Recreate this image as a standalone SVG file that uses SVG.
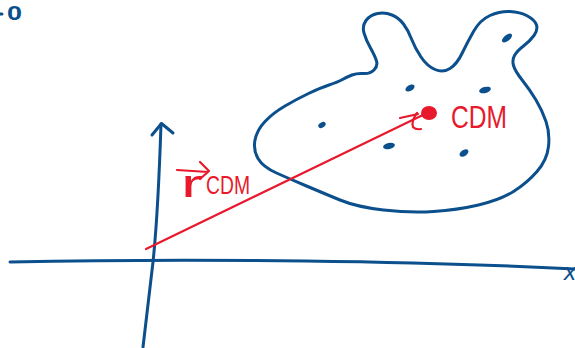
<svg xmlns="http://www.w3.org/2000/svg" width="575" height="348" viewBox="0 0 575 348">
<style>
.blue{fill:none;stroke:#0b4f8c;stroke-width:3;stroke-linecap:round;stroke-linejoin:round}
.red{fill:none;stroke:#e8192c;stroke-width:2.2;stroke-linecap:round;stroke-linejoin:round}
.dot{fill:#0b4f8c}
.lbl{font-family:"Liberation Sans",Arial,sans-serif;fill:#e8192c}
.bl{font-family:"Liberation Sans",Arial,sans-serif;fill:#0b4f8c}
</style>
<rect width="575" height="348" fill="#ffffff"/>
<g id="axes">
<path class="blue" d="M10 262 C200 258 420 261 575 269"/>
<path class="blue" d="M143 347 L153 262 Q158 215 161 124"/>
<path class="blue" d="M152 135 L161.5 123.5 L173 133"/>
<text class="bl" x="564" y="280" font-size="24" font-style="italic">x</text>
<path class="blue" d="M0 14 L2 14"/>
<text class="bl" x="7" y="20" font-size="21" font-weight="bold" textLength="15" lengthAdjust="spacingAndGlyphs">0</text>
</g>
<g id="body">
<path class="blue" d="M255 140 Q257 130 265 121.5 Q273 113 285 106 Q297 99 308.5 93.5 Q320 88 329 85 Q338 82 342.5 79.5 Q347 77 352 75 Q357 73 363.5 73.5 Q370 74 374 70 Q378 66 376.5 61 Q375 56 370.5 48 Q366 40 364 33 Q362 26 366 20.5 Q370 15 377.5 13.5 Q385 12 392 15 Q399 18 403.5 24 Q408 30 411.5 39 Q415 48 421 57 Q427 66 435 69.5 Q443 73 450 68.5 Q457 64 462 53.5 Q467 43 473.5 31.5 Q480 20 490 15.5 Q500 11 510 11.5 Q520 12 527.5 16 Q535 20 536.5 25 Q538 30 534 35.5 Q530 41 523.5 46 Q517 51 514.5 55.5 Q512 60 513.5 65.5 Q515 71 522.5 80.5 Q530 90 536 100 Q542 110 546 121.5 Q550 133 548.5 146.5 Q547 160 537 171.5 Q527 183 513.5 191.5 Q500 200 478.5 205 Q457 210 433.5 211.5 Q410 213 383.5 210 Q357 207 340 200 Q323 193 306.5 186 Q290 179 276.5 173 Q263 167 258 158.5 Q253 150 255 140 Z"/>
<ellipse class="dot" cx="322" cy="125" rx="4" ry="2.5" transform="rotate(-30 322 125)"/>
<ellipse class="dot" cx="389" cy="146" rx="6" ry="3" transform="rotate(-12 389 146)"/>
<ellipse class="dot" cx="464" cy="153" rx="5" ry="3" transform="rotate(-35 464 153)"/>
<ellipse class="dot" cx="410" cy="88" rx="5" ry="3" transform="rotate(-30 410 88)"/>
<ellipse class="dot" cx="485" cy="90" rx="6" ry="3" transform="rotate(-15 485 90)"/>
<ellipse class="dot" cx="507" cy="38" rx="6" ry="3" transform="rotate(-40 507 38)"/>
</g>
<g id="connectors">
<path class="red" d="M146 249 L427 113"/>
<path class="red" d="M400 118 L418 114"/>
<path class="red" d="M417 113 Q411 121 413 127 Q416 130 421 129"/>
<ellipse cx="429" cy="113" rx="8" ry="7" fill="#e8192c"/>
</g>
<g id="labels">
<text class="lbl" x="451" y="128" font-size="32" textLength="56" lengthAdjust="spacingAndGlyphs">CDM</text>
<path class="red" d="M177 170 L208 172 M200 162 L209 171 L200 179"/>
<text class="lbl" x="181" y="197" font-size="38" textLength="22" lengthAdjust="spacingAndGlyphs">r</text>
<text class="lbl" x="206" y="194" font-size="26" textLength="44" lengthAdjust="spacingAndGlyphs">CDM</text>
</g>
</svg>
